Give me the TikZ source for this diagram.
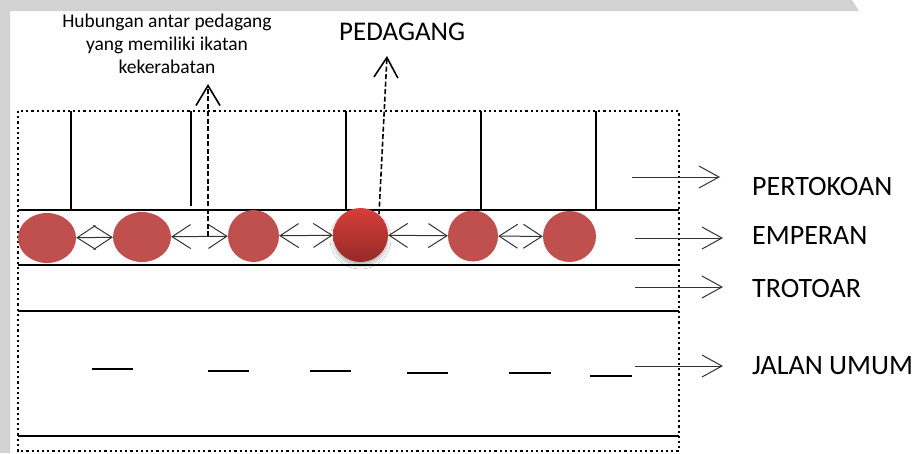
\documentclass[tikz,border=0pt]{standalone}
\usepackage{fontspec}
\setmainfont{Carlito}
\usetikzlibrary{arrows.meta,shapes.geometric,shadows.blur}

\definecolor{vendor}{HTML}{C0504D}
\definecolor{vendortop}{HTML}{D63E3A}
\definecolor{vendorbot}{HTML}{952A27}
\definecolor{band}{HTML}{D2D2D2}
\definecolor{thinline}{HTML}{333333}

\tikzset{
  boundary/.style={line width=2.2pt, dash pattern=on 2.2pt off 3pt},
  edge/.style={line width=2pt, black},
  shopwall/.style={line width=1.8pt, black},
  lanemark/.style={line width=2pt, black},
  vendorspot/.style={ellipse, fill=vendor, draw=none, inner sep=0pt},
  link/.style={thinline, line width=1pt,
    {Straight Barb[length=18.5pt,width=24pt]}-{Straight Barb[length=18.5pt,width=24pt]}},
  pointer/.style={thinline, line width=1pt, -{Straight Barb[length=20pt,width=22pt]}},
  callout/.style={black, line width=1.6pt, dash pattern=on 5pt off 2.5pt,
    -{Straight Barb[length=20pt,width=24pt,line width=1.6pt]}},
  zonelabel/.style={anchor=base west, inner sep=0pt, font=\fontsize{28}{32}\selectfont}
}

\begin{document}
\begin{tikzpicture}[x=1pt, y=-1pt]
  % canvas and the grey frame bands
  \fill[white] (0,0) rectangle (917,453);
  \useasboundingbox (0,0) rectangle (917,453);
  \fill[band] (0,0) -- (852,0) -- (859,11) -- (10,11) -- (10,453) -- (0,453) -- cycle;

  % site boundary
  \draw[boundary] (18,111) rectangle (679,451);

  % strip edges
  \draw[edge] (18,210) -- (679,210);
  \draw[edge] (18,265) -- (679,265);
  \draw[edge] (18,311) -- (679,311);
  \draw[edge] (18,436) -- (679,436);

  % shop partitions
  \draw[shopwall] (71,111) -- (71,210);
  \draw[shopwall] (191,111) -- (191,206);
  \draw[shopwall] (346,111) -- (346,210);
  \draw[shopwall] (481,111) -- (481,210);
  \draw[shopwall] (596,111) -- (596,210);

  % lane markings
  \draw[lanemark] (92,369) -- (133,369);
  \draw[lanemark] (208,371) -- (249,371);
  \draw[lanemark] (310,371) -- (351,371);
  \draw[lanemark] (407,373) -- (448,373);
  \draw[lanemark] (509,373) -- (551,373);
  \draw[lanemark] (590,376) -- (632,376);

  % street vendors
  \node[vendorspot, minimum width=58pt, minimum height=50pt] (c1) at (47,238) {};
  \node[vendorspot, minimum width=58pt, minimum height=50pt] (c2) at (142,237) {};
  \node[vendorspot, minimum width=51pt, minimum height=52pt] (c3) at (253.5,236) {};
  \node[ellipse, inner sep=0pt, minimum width=55pt, minimum height=54pt,
        top color=vendortop, bottom color=vendorbot, draw=none,
        blur shadow={shadow xshift=0pt, shadow yshift=-4pt, shadow blur radius=3pt,
                     shadow opacity=25, shadow blur steps=10}] (c4) at (360.5,235) {};
  \node[vendorspot, minimum width=50pt, minimum height=51pt] (c5) at (473,236) {};
  \node[vendorspot, minimum width=53pt, minimum height=51pt] (c6) at (569.5,236.5) {};

  % kinship links between vendors
  \draw[link] (c1) -- (c2);
  \draw[link] (c2) -- (c3);
  \draw[link] (c3) -- (c4);
  \draw[link] (c4) -- (c5);
  \draw[link] (c5) -- (c6);

  % captions
  \node[align=center, anchor=north, inner sep=0pt,
        font=\fontsize{19.5}{23}\selectfont] (kin) at (167,13.5)
       {Hubungan antar pedagang\\yang memiliki ikatan\\kekerabatan};
  \node[anchor=base west, inner sep=0pt, font=\fontsize{27}{30}\selectfont]
       (pdg) at (339,40) {PEDAGANG};

  \coordinate (kinfoot) at (208,236);
  \coordinate (kintip) at (208,84);
  \draw[callout] (kinfoot) -- (kintip);

  \coordinate (pdgfoot) at (379,214);
  \coordinate (pdgtip) at (387,56);
  \draw[callout] (pdgfoot) -- (pdgtip);

  % zone labels
  \node[zonelabel] (pt) at (752,195) {PERTOKOAN};
  \node[zonelabel] (em) at (752,244) {EMPERAN};
  \node[zonelabel] (tr) at (752,297) {TROTOAR};
  \node[zonelabel] (ju) at (752,374) {JALAN UMUM};

  \coordinate (ptfrom) at (632,177);
  \coordinate (ptto) at (720,177);
  \coordinate (emfrom) at (635,238);
  \coordinate (emto) at (723,238);
  \coordinate (trfrom) at (635,287);
  \coordinate (trto) at (723,287);
  \coordinate (jufrom) at (635,366);
  \coordinate (juto) at (723,366);
  \draw[pointer] (ptfrom) -- (ptto);
  \draw[pointer] (emfrom) -- (emto);
  \draw[pointer] (trfrom) -- (trto);
  \draw[pointer] (jufrom) -- (juto);
\end{tikzpicture}
\end{document}
